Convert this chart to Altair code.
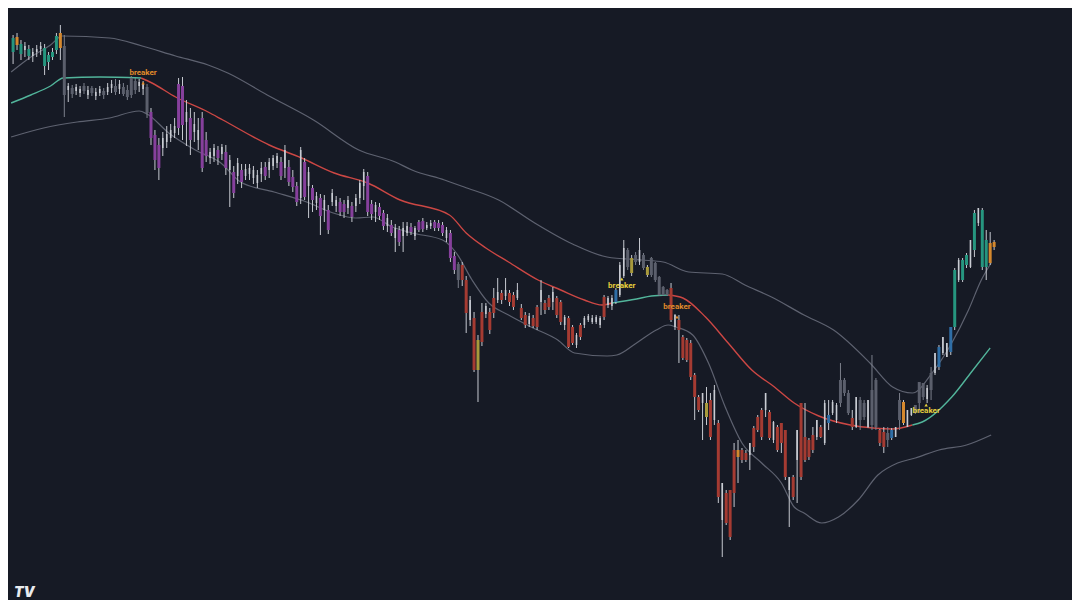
import altair as alt
import pandas as pd

# ---------------- candle data (price units) ----------------
open_ = [
    548, 563, 546, 550, 544, 544, 548, 551, 534, 538, 543, 550, 567, 554,
    510, 506, 509, 507, 509, 505, 507, 504, 507, 505, 508, 512, 508, 511, 506, 503, 505, 510, 514, 511, 513,
    488, 465, 455, 452, 458, 462, 467, 516, 514, 478, 482, 468, 460, 482, 460,
    442, 444, 450, 446, 448, 430, 428, 424, 430, 424,
    426, 422, 417, 426, 433, 430, 434, 437, 438, 432,
    433, 423, 414, 402, 438, 414, 412, 397, 402, 390,
    390, 398, 394, 398, 396, 392, 394, 394, 402, 414,
    424, 396, 388, 393, 387, 374, 375, 362, 370, 364,
    367, 373, 364, 378, 379, 372, 374, 378, 377, 375,
    362, 367, 344, 336, 335,
    320, 280, 282, 230, 288, 286, 288, 302, 300, 307,
    304, 307, 305, 302, 292, 285, 276, 282, 293, 298,
    297, 302, 298, 302, 298, 275, 282, 273, 255, 275,
    275, 280, 278, 278, 275, 303, 295, 294, 298,
    305, 324, 350, 342, 338, 338, 345, 333, 325, 337, 323, 305, 310,
    312, 273, 280, 263, 260, 257, 225, 203, 197, 197,
    200, 180, 177, 80, 107, 110, 150, 150, 150, 147,
    145, 172, 183, 190, 190, 188, 160, 173, 177, 170,
    110, 123, 140, 197, 163, 160, 165, 163, 173, 157,
    177, 187, 180, 197, 220, 207, 182, 173, 200, 183,
    173, 210, 173, 170, 168, 160, 162, 163, 180, 198,
    173, 185, 187, 197, 203, 201, 210, 227, 233, 247,
    243, 248, 273, 320, 320, 335, 333, 350, 377, 390,
    333, 357, 358,
]
high = [
    565, 567, 560, 558, 555, 552, 555, 558, 556, 548, 552, 567, 575, 565,
    517, 515, 516, 514, 517, 514, 514, 512, 514, 512, 517, 520, 521, 520, 517, 515, 524, 522, 521, 519, 516,
    492, 470, 462, 468, 474, 476, 482, 522, 523, 500, 492, 488, 482, 488, 468,
    452, 456, 454, 456, 455, 445, 434, 442, 436, 436,
    436, 434, 430, 438, 438, 442, 445, 447, 443, 455,
    440, 430, 418, 453, 442, 433, 415, 408, 406, 405,
    395, 411, 404, 402, 400, 404, 398, 406, 420, 431,
    428, 400, 398, 397, 390, 386, 380, 376, 374, 378,
    378, 377, 374, 380, 382, 378, 380, 380, 380, 378,
    373, 370, 348, 338, 338,
    324, 304, 288, 265, 297, 297, 292, 312, 322, 310,
    322, 310, 308, 317, 296, 288, 287, 285, 295, 320,
    300, 305, 313, 304, 300, 285, 284, 275, 267, 277,
    284, 286, 285, 285, 284, 305, 304, 305, 312,
    338, 360, 352, 345, 348, 362, 347, 335, 343, 338, 324, 314, 311,
    317, 286, 285, 265, 262, 260, 227, 205, 207, 213,
    207, 215, 180, 117, 110, 110, 157, 160, 152, 150,
    157, 174, 185, 192, 207, 190, 179, 175, 177, 170,
    123, 125, 170, 197, 197, 162, 173, 180, 175, 200,
    200, 200, 197, 237, 222, 210, 190, 203, 203, 200,
    200, 245, 222, 171, 173, 173, 172, 173, 207, 200,
    190, 192, 195, 218, 217, 215, 233, 247, 255, 263,
    257, 273, 332, 342, 342, 347, 360, 390, 392, 392,
    370, 368, 360,
]
low = [
    536, 550, 540, 543, 540, 538, 543, 545, 525, 530, 540, 546, 540, 483,
    498, 502, 505, 503, 506, 501, 504, 500, 504, 501, 505, 507, 505, 506, 504, 500, 502, 506, 508, 505, 482,
    455, 430, 420, 444, 452, 458, 462, 465, 460, 454, 445, 458, 450, 428, 438,
    436, 438, 435, 440, 425, 393, 402, 416, 412, 420,
    420, 416, 412, 418, 420, 422, 430, 432, 420, 422,
    414, 408, 394, 396, 400, 382, 388, 390, 365, 378,
    366, 394, 388, 384, 382, 386, 378, 388, 396, 400,
    384, 380, 378, 380, 370, 368, 364, 348, 354, 348,
    364, 365, 360, 368, 368, 370, 371, 369, 369, 364,
    358, 338, 326, 312, 314,
    267, 274, 228, 198, 254, 282, 266, 282, 297, 296,
    300, 294, 290, 300, 280, 272, 273, 272, 270, 285,
    286, 290, 290, 282, 275, 270, 252, 255, 252, 260,
    272, 278, 276, 276, 272, 280, 292, 290, 296,
    303, 322, 330, 324, 335, 335, 330, 323, 323, 318, 304, 304, 304,
    278, 270, 237, 240, 238, 220, 180, 188, 160, 175,
    160, 175, 97, 43, 75, 60, 93, 117, 137, 138,
    130, 148, 168, 160, 183, 160, 157, 148, 147, 120,
    73, 100, 97, 120, 138, 140, 147, 160, 162, 155,
    170, 185, 177, 193, 204, 185, 170, 172, 170, 180,
    172, 170, 170, 154, 147, 153, 160, 163, 170, 175,
    173, 184, 186, 187, 200, 197, 200, 225, 230, 245,
    243, 245, 270, 318, 318, 332, 332, 343, 374, 330,
    320, 335, 350,
]
close = [
    562, 555, 556, 554, 551, 548, 551, 554, 552, 545, 548, 564, 552, 505,
    514, 512, 513, 511, 514, 510, 512, 508, 511, 509, 513, 516, 514, 516, 513, 510, 522, 519, 518, 516, 487,
    462, 440, 432, 462, 466, 470, 474, 472, 475, 488, 460, 476, 470, 432, 444,
    448, 452, 442, 453, 432, 440, 407, 437, 418, 431,
    432, 430, 425, 432, 424, 438, 442, 444, 424, 450,
    418, 413, 398, 450, 403, 428, 400, 404, 384, 400,
    370, 407, 400, 388, 388, 400, 383, 402, 417, 428,
    388, 386, 395, 384, 374, 382, 367, 372, 358, 372,
    374, 368, 372, 370, 371, 375, 377, 372, 372, 367,
    370, 342, 330, 320, 320,
    287, 300, 230, 260, 258, 294, 270, 287, 308, 300,
    310, 298, 293, 310, 282, 275, 284, 274, 273, 310,
    290, 293, 308, 285, 278, 283, 253, 257, 265, 263,
    282, 284, 282, 283, 282, 283, 302, 302, 310,
    335, 352, 333, 327, 345, 350, 332, 325, 342, 320, 305, 313, 305,
    280, 285, 270, 242, 240, 223, 203, 190, 207, 183,
    163, 210, 103, 117, 77, 63, 107, 143, 140, 140,
    157, 153, 170, 163, 207, 162, 178, 150, 157, 123,
    123, 103, 170, 123, 140, 143, 150, 180, 163, 197,
    185, 198, 195, 220, 207, 187, 173, 203, 180, 197,
    200, 175, 220, 157, 153, 167, 170, 173, 200, 177,
    190, 192, 195, 218, 217, 212, 227, 247, 253, 263,
    257, 273, 330, 340, 340, 345, 360, 387, 392, 333,
    360, 337, 353,
]
# regime tone of each candle
tone = list(
    "totwtwwwttttog"
    "wgwwgwgwwgwwgwggggwwg"
    "pppwwwwppwpwwpp" "wwpwpwpwpw" "wwwwpwwwpw" "pppwpwpwpw" "pwwppwpwww"
    "ppwppwpwpw" "wpwppwwppp" "wppgr"
    "rwryrwrrwr" "wrrwrrwrrw" "rrwrrwrrwr" "wwwwwrwwb"
    "wwgygwgyggggg"
    "rwrrrrrrwy" "rwrwrrrorr" "wrrrwrwrrr" "wrwrrrrwrw" "bwwgggrwgg"
    "wggrrgbwgo" "wwgggwgwbw" "wbtwttwtwt" "too"
)

# ---------------- channel lines ----------------
upper_t = [-0.5, 4.5, 9.5, 12.5, 24.5, 32.75, 41.25, 49.5, 54.5, 64.5, 76.25, 87.75, 97, 101.25,
           109.5, 114.5, 123.25, 132, 142, 150.75, 159.5, 165, 171.5, 180, 185.75, 192.5, 200.75,
           208.25, 217.5, 223.25, 228.25, 233.25, 238.25, 242.5, 245.75, 248.25]
upper_p = [528, 543, 555, 564, 562, 554, 544, 535, 527, 505, 480, 450, 438, 430,
           420, 413, 400, 378, 356, 343, 340, 338, 328, 326, 315, 303, 285,
           270, 237, 213, 207, 227, 257, 290, 320, 337]
lower_t = [-0.5, 7.75, 16.25, 24.5, 32, 34, 39.5, 46.25, 52.75, 57.75, 66.25, 74.5, 81.25, 87,
           91.25, 96.25, 101.25, 109, 112.5, 116.5, 120.75, 125.75, 131.5, 138.25, 142.5, 150.75,
           153.25, 158.25, 163.25, 166.25, 168.25, 172.5, 176.5, 180.75, 185, 190, 195, 198.25,
           200.75, 205.25, 209.5, 214.5, 219.5, 224.5, 229, 235, 242, 248.25]
lower_p = [463, 472, 478, 482, 489, 486, 467, 450, 437, 418, 408, 398, 387, 382,
           383, 373, 367, 360, 347, 320, 297, 285, 273, 260, 247, 244,
           245, 257, 270, 275, 273, 265, 237, 193, 157, 137, 117, 93,
           87, 77, 83, 100, 125, 137, 142, 150, 155, 165]

# middle line, split into trend segments
mid_seg = [1] * 6 + [2] * 19 + [3] * 4 + [4] * 12 + [5] * 5
mid_trend = ["up"] * 6 + ["down"] * 19 + ["up"] * 4 + ["down"] * 12 + ["up"] * 5
mid_t = [-0.5, 4.5, 9.5, 12.75, 22, 32.5,
         32.5, 35.25, 41.25, 49.5, 53.25, 65, 73.25, 81.5, 90, 98.25, 110.75, 115, 120, 125.75,
         133.25, 139, 145, 149.5, 152,
         152, 158.25, 162, 166.25,
         166.25, 170, 175.75, 181.5, 187.5, 193.25, 198.25, 204.5, 212.5, 218.25, 223.25, 228.25,
         228.25, 230.75, 238.25, 243.25, 248]
mid_p = [497, 505, 514, 522, 523, 522,
         522, 517, 503, 488, 480, 455, 442, 427, 417, 400, 385, 367, 352, 338,
         320, 310, 300, 295, 297,
         297, 301, 304, 305,
         305, 302, 283, 257, 230, 213, 197, 184, 175, 172, 171, 175,
         175, 178, 203, 228, 252]

# breaker signals
sig_t = [33, 154.5, 168.5, 231.75]
sig_p = [527, 314, 293, 189]
sig_dot_p = [517, 321, 283, 195]
sig_kind = ["bear", "bull", "bear", "bull"]
sig_text = ["breaker", "breaker", "breaker", "breaker"]

# ---------------- styling ----------------
BG = "#161a25"
body_pal = {"t": "#26967f", "o": "#d4882e", "p": "#86409c", "r": "#a53b32", "g": "#5b5f6c",
            "w": "#c9ccd3", "y": "#a89a3c", "b": "#2f6ea6"}
wick_pal = {k: "#c6c9d0" for k in body_pal}
wick_pal["g"] = "#7c808c"
sig_pal = {"bear": "#e08a2a", "bull": "#e6cf3c"}
trend_pal = {"up": "#52b59b", "down": "#cc4744"}

df = pd.DataFrame({"t": list(range(len(close))), "open": open_, "high": high, "low": low,
                   "close": close, "tone": tone})
df["high"] = df[["high", "open", "close"]].max(axis=1)
df["low"] = df[["low", "open", "close"]].min(axis=1)
df["body_col"] = df["tone"].map(body_pal)
df["wick_col"] = df["tone"].map(wick_pal)
df["bw"] = df["tone"].map(lambda s: 1.6 if s == "w" else 3.0)

bands = pd.concat([
    pd.DataFrame({"t": upper_t, "p": upper_p, "band": "upper"}),
    pd.DataFrame({"t": lower_t, "p": lower_p, "band": "lower"}),
])
mid = pd.DataFrame({"t": mid_t, "p": mid_p, "seg": mid_seg, "trend": mid_trend})
mid["col"] = mid["trend"].map(trend_pal)
sig = pd.DataFrame({"t": sig_t, "p": sig_p, "dp": sig_dot_p, "kind": sig_kind, "text": sig_text})
sig["col"] = sig["kind"].map(sig_pal)

# page has an 8px margin: the chart area is 1064 x 592
xs = alt.Scale(domain=[1.5, 267.5], nice=False, zero=False)
ys = alt.Scale(domain=[0, 592], nice=False, zero=False)
X = alt.X("t:Q", scale=xs, axis=None)

band_lines = alt.Chart(bands).mark_line(color="#5e6270", strokeWidth=1.2, interpolate="monotone").encode(
    x=X, y=alt.Y("p:Q", scale=ys, axis=None), detail="band:N")

mid_line = alt.Chart(mid).mark_line(strokeWidth=1.4, interpolate="monotone").encode(
    x=X, y=alt.Y("p:Q", scale=ys, axis=None), detail="seg:N", color=alt.Color("col:N", scale=None))

wicks = alt.Chart(df).mark_rule(strokeWidth=1).encode(
    x=X, y=alt.Y("low:Q", scale=ys, axis=None), y2="high:Q", color=alt.Color("wick_col:N", scale=None))

bodies = alt.Chart(df).mark_bar().encode(
    x=X, y=alt.Y("open:Q", scale=ys, axis=None), y2="close:Q",
    size=alt.Size("bw:Q", scale=None), color=alt.Color("body_col:N", scale=None))

dots = alt.Chart(sig).mark_point(shape="triangle-up", filled=True, size=12, opacity=1).encode(
    x=X, y=alt.Y("dp:Q", scale=ys, axis=None), color=alt.Color("col:N", scale=None))

labels = alt.Chart(sig).mark_text(fontSize=8, font="Roboto", fontWeight="bold").encode(
    x=X, y=alt.Y("p:Q", scale=ys, axis=None), text="text:N", color=alt.Color("col:N", scale=None))

logo = alt.Chart(pd.DataFrame({"s": ["TV"]})).mark_text(
    fontSize=14, font="Inter", fontWeight=900, fontStyle="italic", color="#e9ebef", align="left"
).encode(text="s:N", x=alt.value(0), y=alt.value(585))

chart = alt.layer(band_lines, mid_line, wicks, bodies, dots, labels, logo).properties(
    width=1064, height=592,
    autosize=alt.AutoSizeParams(type="fit", contains="padding"),
    padding=0,
    background=BG,
).configure_view(strokeWidth=0)

chart.save("out.html", embed_options={"renderer": "svg", "actions": False})
